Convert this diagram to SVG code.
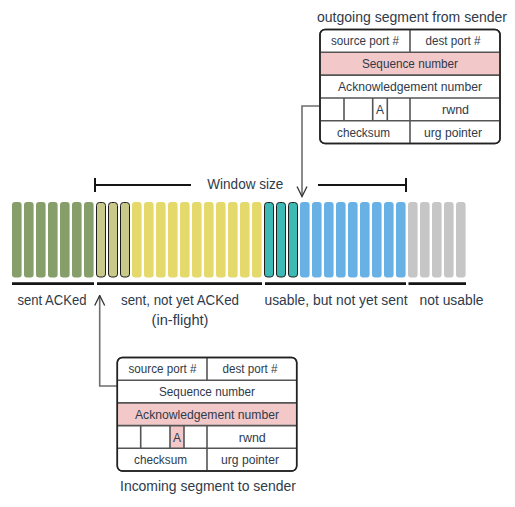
<svg xmlns="http://www.w3.org/2000/svg" width="515" height="507" viewBox="0 0 515 507">
<defs>
<style>
text{font-family:"Liberation Sans","Noto Sans",Arial,sans-serif;fill:#2f3a4a;text-anchor:middle}
.lbl{font-size:14px}
.cell{font-size:12px}
.bar{rx:3;ry:3}
.g{fill:#869e6a}
.o{fill:#c9ca8a;stroke:#1e1e1e;stroke-width:1}
.y{fill:#e4d96a}
.t{fill:#3dbab5;stroke:#1e1e1e;stroke-width:1}
.b{fill:#68b1e4}
.s{fill:#c6c6c6}
.ul{stroke:#151515;stroke-width:2.8;fill:none}
.frame{fill:#fff;stroke:#222;stroke-width:1.5}
.in{stroke:#555;stroke-width:1.6;fill:none}
.pink{fill:#f2c8c8}
.conn{stroke:#6e6e6e;stroke-width:1.6;fill:none}
</style>
<marker id="ah" viewBox="0 0 12 12" refX="11" refY="6" markerWidth="12" markerHeight="12" markerUnits="userSpaceOnUse" orient="auto">
<path d="M1,1 L11,6 L1,11" fill="none" stroke="#333" stroke-width="1.3"/>
</marker>
</defs>
<g id="bars">
<rect class="bar g" x="12" y="202" width="9.6" height="75.5"/>
<rect class="bar g" x="24" y="202" width="9.6" height="75.5"/>
<rect class="bar g" x="36" y="202" width="9.6" height="75.5"/>
<rect class="bar g" x="48" y="202" width="9.6" height="75.5"/>
<rect class="bar g" x="60" y="202" width="9.6" height="75.5"/>
<rect class="bar g" x="72" y="202" width="9.6" height="75.5"/>
<rect class="bar g" x="84" y="202" width="9.6" height="75.5"/>
<rect class="bar o" x="96.5" y="202.5" width="9" height="74.5"/>
<rect class="bar o" x="108.5" y="202.5" width="9" height="74.5"/>
<rect class="bar o" x="120.5" y="202.5" width="9" height="74.5"/>
<rect class="bar y" x="132" y="202" width="9.6" height="75.5"/>
<rect class="bar y" x="144" y="202" width="9.6" height="75.5"/>
<rect class="bar y" x="156" y="202" width="9.6" height="75.5"/>
<rect class="bar y" x="168" y="202" width="9.6" height="75.5"/>
<rect class="bar y" x="180" y="202" width="9.6" height="75.5"/>
<rect class="bar y" x="192" y="202" width="9.6" height="75.5"/>
<rect class="bar y" x="204" y="202" width="9.6" height="75.5"/>
<rect class="bar y" x="216" y="202" width="9.6" height="75.5"/>
<rect class="bar y" x="228" y="202" width="9.6" height="75.5"/>
<rect class="bar y" x="240" y="202" width="9.6" height="75.5"/>
<rect class="bar y" x="252" y="202" width="9.6" height="75.5"/>
<rect class="bar t" x="264.5" y="202.5" width="9" height="74.5"/>
<rect class="bar t" x="276.5" y="202.5" width="9" height="74.5"/>
<rect class="bar t" x="288.5" y="202.5" width="9" height="74.5"/>
<rect class="bar b" x="300" y="202" width="9.6" height="75.5"/>
<rect class="bar b" x="312" y="202" width="9.6" height="75.5"/>
<rect class="bar b" x="324" y="202" width="9.6" height="75.5"/>
<rect class="bar b" x="336" y="202" width="9.6" height="75.5"/>
<rect class="bar b" x="348" y="202" width="9.6" height="75.5"/>
<rect class="bar b" x="360" y="202" width="9.6" height="75.5"/>
<rect class="bar b" x="372" y="202" width="9.6" height="75.5"/>
<rect class="bar b" x="384" y="202" width="9.6" height="75.5"/>
<rect class="bar b" x="396" y="202" width="9.6" height="75.5"/>
<rect class="bar s" x="408" y="202" width="9.6" height="75.5"/>
<rect class="bar s" x="420" y="202" width="9.6" height="75.5"/>
<rect class="bar s" x="432" y="202" width="9.6" height="75.5"/>
<rect class="bar s" x="444" y="202" width="9.6" height="75.5"/>
<rect class="bar s" x="456" y="202" width="9.6" height="75.5"/>
</g>
<g id="ranges">
<line class="ul" x1="12" y1="283.7" x2="94" y2="283.7"/>
<line class="ul" x1="97" y1="283.7" x2="262" y2="283.7"/>
<line class="ul" x1="265" y1="283.7" x2="406" y2="283.7"/>
<line class="ul" x1="408.5" y1="283.7" x2="466" y2="283.7"/>
<text class="lbl" x="52" y="305" textLength="69" lengthAdjust="spacingAndGlyphs">sent ACKed</text>
<text class="lbl" x="180" y="305" textLength="118" lengthAdjust="spacingAndGlyphs">sent, not yet ACKed</text>
<text class="lbl" x="180" y="325" textLength="57" lengthAdjust="spacingAndGlyphs">(in-flight)</text>
<text class="lbl" x="336" y="305" textLength="143" lengthAdjust="spacingAndGlyphs">usable, but not yet sent</text>
<text class="lbl" x="451.5" y="305" textLength="64" lengthAdjust="spacingAndGlyphs">not usable</text>
</g>
<g id="window">
<path d="M95,185 H191 M318,185 H406 M95,178 V192 M406,178 V192" stroke="#151515" stroke-width="2" fill="none"/>
<text class="lbl" x="245.3" y="189" textLength="76" lengthAdjust="spacingAndGlyphs">Window size</text>
</g>
<g id="connectors">
<path class="conn" d="M320,106 H302 V196.5" marker-end="url(#ah)"/>
<path class="conn" d="M117,386 H99.7 V295.5" marker-end="url(#ah)"/>
</g>
<g id="outgoing">
<text class="lbl" x="412" y="22" textLength="190" lengthAdjust="spacingAndGlyphs">outgoing segment from sender</text>
<rect class="frame" x="320" y="29.5" width="180" height="114" rx="5"/>
<rect class="pink" x="320.8" y="52.3" width="178.4" height="22.8"/>
<path class="in" d="M320,52.3 H500 M320,75.1 H500 M320,98 H500 M320,120.8 H500 M410,29.5 V52.3 M410,98 V143.5 M344,98 V120.8 M372.7,98 V120.8 M387.3,98 V120.8"/>
<rect x="320" y="29.5" width="180" height="114" rx="5" fill="none" stroke="#222" stroke-width="1.5"/>
<g class="cell">
<text x="365" y="45" textLength="68" lengthAdjust="spacingAndGlyphs">source port #</text>
<text x="453" y="45" textLength="55" lengthAdjust="spacingAndGlyphs">dest port #</text>
<text x="410" y="68" textLength="96" lengthAdjust="spacingAndGlyphs">Sequence number</text>
<text x="410" y="91" textLength="144" lengthAdjust="spacingAndGlyphs">Acknowledgement number</text>
<text x="380" y="114">A</text>
<text x="455.5" y="114" textLength="27" lengthAdjust="spacingAndGlyphs">rwnd</text>
<text x="363.5" y="137" textLength="53" lengthAdjust="spacingAndGlyphs">checksum</text>
<text x="453" y="137" textLength="58" lengthAdjust="spacingAndGlyphs">urg pointer</text>
</g>
</g>
<g id="incoming">
<rect class="frame" x="117.3" y="357.5" width="179.4" height="113.5" rx="5"/>
<rect class="pink" x="118" y="402.9" width="178" height="22.7"/>
<rect class="pink" x="170" y="425.6" width="14" height="22.7"/>
<path class="in" d="M117.3,380.2 H296.7 M117.3,402.9 H296.7 M117.3,425.6 H296.7 M117.3,448.3 H296.7 M207,357.5 V380.2 M207,425.6 V471 M140.7,425.6 V448.3 M170,425.6 V448.3 M184,425.6 V448.3"/>
<rect x="117.3" y="357.5" width="179.4" height="113.5" rx="5" fill="none" stroke="#222" stroke-width="1.5"/>
<g class="cell">
<text x="162.5" y="373" textLength="68" lengthAdjust="spacingAndGlyphs">source port #</text>
<text x="250" y="373" textLength="55" lengthAdjust="spacingAndGlyphs">dest port #</text>
<text x="207" y="396" textLength="96" lengthAdjust="spacingAndGlyphs">Sequence number</text>
<text x="207" y="419" textLength="144" lengthAdjust="spacingAndGlyphs">Acknowledgement number</text>
<text x="177" y="441.5">A</text>
<text x="252.3" y="441.5" textLength="27" lengthAdjust="spacingAndGlyphs">rwnd</text>
<text x="160.5" y="464" textLength="53" lengthAdjust="spacingAndGlyphs">checksum</text>
<text x="250" y="464" textLength="58" lengthAdjust="spacingAndGlyphs">urg pointer</text>
</g>
<text class="lbl" x="208" y="491" textLength="176" lengthAdjust="spacingAndGlyphs">Incoming segment to sender</text>
</g>
</svg>
